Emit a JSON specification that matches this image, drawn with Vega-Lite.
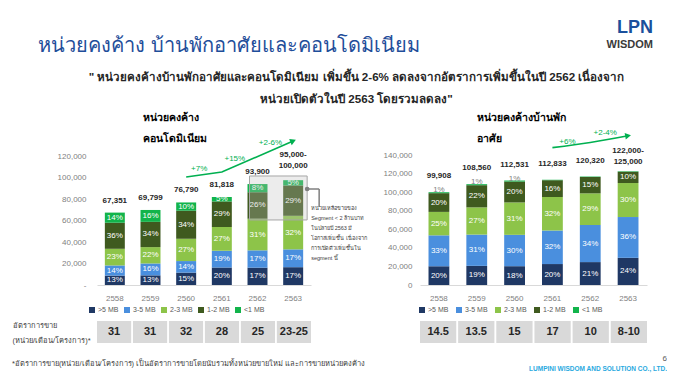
{
  "$schema": "https://vega.github.io/schema/vega-lite/v6.json",
  "background": "white",
  "padding": {"left": 12, "top": 18, "right": 0, "bottom": 0},
  "config": {
    "font": "Liberation Sans",
    "view": {"stroke": null},
    "axisX": {"labelAngle": 0, "ticks": false, "domainColor": "#D9D9D9", "labelColor": "#7F7F7F", "labelFontSize": 8, "labelPadding": 9, "title": null},
    "axisY": {"grid": false, "domain": false, "ticks": false, "labelColor": "#7F7F7F", "labelFontSize": 8, "labelOverlap": false, "title": null}
  },
  "datasets": {
    "condo": [
      {"year": "2558", "seg": ">5 MB", "k": 1, "v": 8756, "lab": "13%"},
      {"year": "2558", "seg": "3-5 MB", "k": 2, "v": 9429, "lab": "14%"},
      {"year": "2558", "seg": "2-3 MB", "k": 3, "v": 15491, "lab": "23%"},
      {"year": "2558", "seg": "1-2 MB", "k": 4, "v": 24246, "lab": "36%"},
      {"year": "2558", "seg": "<1 MB", "k": 5, "v": 9429, "lab": "14%"},
      {"year": "2559", "seg": ">5 MB", "k": 1, "v": 8984, "lab": "13%"},
      {"year": "2559", "seg": "3-5 MB", "k": 2, "v": 11057, "lab": "16%"},
      {"year": "2559", "seg": "2-3 MB", "k": 3, "v": 15204, "lab": "22%"},
      {"year": "2559", "seg": "1-2 MB", "k": 4, "v": 23497, "lab": "34%"},
      {"year": "2559", "seg": "<1 MB", "k": 5, "v": 11057, "lab": "16%"},
      {"year": "2560", "seg": ">5 MB", "k": 1, "v": 11519, "lab": "15%"},
      {"year": "2560", "seg": "3-5 MB", "k": 2, "v": 10751, "lab": "14%"},
      {"year": "2560", "seg": "2-3 MB", "k": 3, "v": 20733, "lab": "27%"},
      {"year": "2560", "seg": "1-2 MB", "k": 4, "v": 26109, "lab": "34%"},
      {"year": "2560", "seg": "<1 MB", "k": 5, "v": 7679, "lab": "10%"},
      {"year": "2561", "seg": ">5 MB", "k": 1, "v": 16364, "lab": "20%"},
      {"year": "2561", "seg": "3-5 MB", "k": 2, "v": 15545, "lab": "19%"},
      {"year": "2561", "seg": "2-3 MB", "k": 3, "v": 22091, "lab": "27%"},
      {"year": "2561", "seg": "1-2 MB", "k": 4, "v": 23727, "lab": "29%"},
      {"year": "2561", "seg": "<1 MB", "k": 5, "v": 4091, "lab": "5%"},
      {"year": "2562", "seg": ">5 MB", "k": 1, "v": 16124, "lab": "17%"},
      {"year": "2562", "seg": "3-5 MB", "k": 2, "v": 16124, "lab": "17%"},
      {"year": "2562", "seg": "2-3 MB", "k": 3, "v": 29403, "lab": "31%"},
      {"year": "2562", "seg": "1-2 MB", "k": 4, "v": 24661, "lab": "26%"},
      {"year": "2562", "seg": "<1 MB", "k": 5, "v": 7588, "lab": "8%"},
      {"year": "2563", "seg": ">5 MB", "k": 1, "v": 16575, "lab": "17%"},
      {"year": "2563", "seg": "3-5 MB", "k": 2, "v": 16575, "lab": "17%"},
      {"year": "2563", "seg": "2-3 MB", "k": 3, "v": 31200, "lab": "32%"},
      {"year": "2563", "seg": "1-2 MB", "k": 4, "v": 28275, "lab": "29%"},
      {"year": "2563", "seg": "<1 MB", "k": 5, "v": 4875, "lab": "5%"}
    ],
    "house": [
      {"year": "2558", "seg": ">5 MB", "k": 1, "v": 20183, "lab": "20%"},
      {"year": "2558", "seg": "3-5 MB", "k": 2, "v": 33302, "lab": "33%"},
      {"year": "2558", "seg": "2-3 MB", "k": 3, "v": 25229, "lab": "25%"},
      {"year": "2558", "seg": "1-2 MB", "k": 4, "v": 20183, "lab": "20%"},
      {"year": "2558", "seg": "<1 MB", "k": 5, "v": 1009, "lab": ""},
      {"year": "2559", "seg": ">5 MB", "k": 1, "v": 20626, "lab": "19%"},
      {"year": "2559", "seg": "3-5 MB", "k": 2, "v": 33654, "lab": "31%"},
      {"year": "2559", "seg": "2-3 MB", "k": 3, "v": 29311, "lab": "27%"},
      {"year": "2559", "seg": "1-2 MB", "k": 4, "v": 23883, "lab": "22%"},
      {"year": "2559", "seg": "<1 MB", "k": 5, "v": 1086, "lab": ""},
      {"year": "2560", "seg": ">5 MB", "k": 1, "v": 20256, "lab": "18%"},
      {"year": "2560", "seg": "3-5 MB", "k": 2, "v": 33759, "lab": "30%"},
      {"year": "2560", "seg": "2-3 MB", "k": 3, "v": 34885, "lab": "31%"},
      {"year": "2560", "seg": "1-2 MB", "k": 4, "v": 22506, "lab": "20%"},
      {"year": "2560", "seg": "<1 MB", "k": 5, "v": 1125, "lab": ""},
      {"year": "2561", "seg": ">5 MB", "k": 1, "v": 22567, "lab": "20%"},
      {"year": "2561", "seg": "3-5 MB", "k": 2, "v": 36107, "lab": "32%"},
      {"year": "2561", "seg": "2-3 MB", "k": 3, "v": 36107, "lab": "32%"},
      {"year": "2561", "seg": "1-2 MB", "k": 4, "v": 18053, "lab": "16%"},
      {"year": "2561", "seg": "<1 MB", "k": 5, "v": 500, "lab": ""},
      {"year": "2562", "seg": ">5 MB", "k": 1, "v": 24670, "lab": "21%"},
      {"year": "2562", "seg": "3-5 MB", "k": 2, "v": 39941, "lab": "34%"},
      {"year": "2562", "seg": "2-3 MB", "k": 3, "v": 34068, "lab": "29%"},
      {"year": "2562", "seg": "1-2 MB", "k": 4, "v": 17621, "lab": "15%"},
      {"year": "2562", "seg": "<1 MB", "k": 5, "v": 500, "lab": ""},
      {"year": "2563", "seg": ">5 MB", "k": 1, "v": 29280, "lab": "24%"},
      {"year": "2563", "seg": "3-5 MB", "k": 2, "v": 43920, "lab": "36%"},
      {"year": "2563", "seg": "2-3 MB", "k": 3, "v": 36600, "lab": "30%"},
      {"year": "2563", "seg": "1-2 MB", "k": 4, "v": 12200, "lab": "10%"},
      {"year": "2563", "seg": "<1 MB", "k": 5, "v": 500, "lab": ""}
    ],
    "condoTot": [
      {"year": "2558", "v": 67351, "lab": "67,351"},
      {"year": "2559", "v": 69799, "lab": "69,799"},
      {"year": "2560", "v": 76790, "lab": "76,790"},
      {"year": "2561", "v": 81818, "lab": "81,818"},
      {"year": "2562", "v": 93900, "lab": "93,900"}
    ],
    "condoRange": [
      {"year": "2563", "v": 97500, "lab": "95,000-\n100,000"}
    ],
    "houseTot": [
      {"year": "2558", "v": 99906, "lab": "99,908"},
      {"year": "2559", "v": 108560, "lab": "108,560"},
      {"year": "2560", "v": 112531, "lab": "112,531"},
      {"year": "2561", "v": 113334, "lab": "112,833"},
      {"year": "2562", "v": 116800, "lab": "120,320"}
    ],
    "houseRange": [
      {"year": "2563", "v": 122500, "lab": "122,000-\n125,000"}
    ],
    "houseSmall": [
      {"year": "2558", "v": 99906, "lab": "1%"},
      {"year": "2559", "v": 108560, "lab": "1%"},
      {"year": "2560", "v": 112531, "lab": "1%"}
    ],
    "condoArrow": [
      {"year": "2560", "v": 100500},
      {"year": "2561", "v": 105100},
      {"year": "2563", "v": 134000}
    ],
    "condoGrowth": [
      {"year": "2560", "v": 107900, "lab": "+7%"},
      {"year": "2561", "v": 117200, "lab": "+15%"},
      {"year": "2562", "v": 132100, "lab": "+2-6%"}
    ],
    "houseArrow": [
      {"year": "2561", "v": 147900},
      {"year": "2562", "v": 153500},
      {"year": "2563", "v": 160800}
    ],
    "houseGrowth": [
      {"year": "2561", "v": 154300, "lab": "+6%"},
      {"year": "2562", "v": 164000, "lab": "+2-4%"}
    ],
    "box": [{"a": "2562", "b": "2563", "lo": 60500, "hi": 101400}],
    "connector": [{"a": "2563", "y1": 89300, "y2": 72500}],
    "note": [{"a": "2563", "v": 73500, "lab": "หน่วยเหลือขายของ\nSegment < 2 ล้านบาท\nในปลายปี 2563 มี\nโอกาสเพิ่มขึ้น เนื่องจาก\nการเปิดตัวเพิ่มขึ้นใน\nsegment นี้"}],
    "rateCondo": [
      {"year": "2558", "row": "r", "r": "31"},
      {"year": "2559", "row": "r", "r": "31"},
      {"year": "2560", "row": "r", "r": "32"},
      {"year": "2561", "row": "r", "r": "28"},
      {"year": "2562", "row": "r", "r": "25"},
      {"year": "2563", "row": "r", "r": "23-25"}
    ],
    "rateHouse": [
      {"year": "2558", "row": "r", "r": "14.5"},
      {"year": "2559", "row": "r", "r": "13.5"},
      {"year": "2560", "row": "r", "r": "15"},
      {"year": "2561", "row": "r", "r": "17"},
      {"year": "2562", "row": "r", "r": "10"},
      {"year": "2563", "row": "r", "r": "8-10"}
    ]
  },
  "title": {"text": "หน่วยคงค้าง บ้านพักอาศัยและคอนโดมิเนียม", "anchor": "start", "dx": 26, "offset": -37, "fontSize": 20, "fontWeight": "normal", "color": "#1F4E9A"},
  "vconcat": [
    {
      "title": {"text": "LPN", "subtitle": "WISDOM", "anchor": "end", "dx": -14, "offset": 22, "fontSize": 18, "fontWeight": "bold", "color": "#1B4F9C", "subtitleFontSize": 11, "subtitleFontWeight": "bold", "subtitleColor": "#3A3A3A", "subtitlePadding": 2},
      "vconcat": [
        {
          "title": {"text": ["\" หน่วยคงค้างบ้านพักอาศัยและคอนโดมิเนียม เพิ่มขึ้น 2-6% ลดลงจากอัตราการเพิ่มขึ้นในปี 2562 เนื่องจาก", "หน่วยเปิดตัวในปี 2563 โดยรวมลดลง\""], "anchor": "middle", "dx": 17, "offset": 7, "fontSize": 11.6, "fontWeight": "bold", "color": "#262626", "lineHeight": 22},
          "columns": 2,
          "bounds": "flush",
          "spacing": {"column": 109, "row": 36},
          "resolve": {"scale": {"color": "independent", "x": "independent", "y": "independent"}, "legend": {"color": "independent"}},
          "concat": [
            {
              "width": 214,
              "height": 158,
              "title": {"text": ["หน่วยคงค้าง", "คอนโดมิเนียม"], "anchor": "start", "frame": "group", "align": "left", "dx": 46, "offset": -17, "fontSize": 10.5, "fontWeight": "bold", "color": "#000000", "lineHeight": 21},
              "layer": [
                {
                  "data": {"name": "condo"},
                  "mark": {"type": "bar"},
                  "encoding": {
                    "x": {"field": "year", "type": "nominal", "title": null, "scale": {"paddingInner": 0.44, "paddingOuter": 0.22}},
                    "y": {"field": "v", "type": "quantitative", "title": null, "stack": "zero", "scale": {"domain": [0, 146977], "nice": false}, "axis": {"values": [0, 20000, 40000, 60000, 80000, 100000, 120000], "labelExpr": "datum.value == 0 ? '-' : format(datum.value, ',d')", "labelPadding": 11}},
                    "color": {"field": "seg", "type": "nominal", "scale": {"domain": [">5 MB", "3-5 MB", "2-3 MB", "1-2 MB", "<1 MB"], "range": ["#1F3864", "#4A8FDE", "#8DC449", "#3F5A1F", "#12B44B"]}, "legend": {"title": null, "orient": "none", "legendX": -9, "legendY": 179, "direction": "horizontal", "columns": 5, "symbolType": "square", "symbolSize": 36, "labelFontSize": 7, "labelColor": "#595959", "columnPadding": 4, "labelOffset": 2}},
                    "order": {"field": "k"}
                  }
                },
                {
                  "data": {"name": "condo"},
                  "mark": {"type": "text", "color": "white", "fontSize": 8},
                  "encoding": {
                    "x": {"field": "year", "type": "nominal", "title": null},
                    "y": {"field": "v", "type": "quantitative", "title": null, "stack": "zero", "bandPosition": 0.5, "scale": {"domain": [0, 146977], "nice": false}, "axis": {"values": [0, 20000, 40000, 60000, 80000, 100000, 120000], "labelExpr": "datum.value == 0 ? '-' : format(datum.value, ',d')", "labelPadding": 11}},
                    "detail": {"field": "seg"},
                    "order": {"field": "k"},
                    "text": {"field": "lab"}
                  }
                },
                {
                  "data": {"name": "box"},
                  "mark": {"type": "rect", "fill": "#BFBFBF", "fillOpacity": 0.3, "stroke": "#A6A6A6", "strokeWidth": 1, "xOffset": 2, "x2Offset": 4},
                  "encoding": {
                    "x": {"field": "a", "type": "nominal", "title": null, "bandPosition": 0},
                    "x2": {"field": "b", "bandPosition": 1},
                    "y": {"field": "lo", "type": "quantitative", "title": null, "scale": {"domain": [0, 146977], "nice": false}, "axis": {"values": [0, 20000, 40000, 60000, 80000, 100000, 120000], "labelExpr": "datum.value == 0 ? '-' : format(datum.value, ',d')", "labelPadding": 11}},
                    "y2": {"field": "hi"}
                  }
                },
                {
                  "data": {"name": "connector"},
                  "mark": {"type": "rule", "color": "#7F7F7F", "strokeWidth": 1.5, "xOffset": 4, "x2Offset": 16},
                  "encoding": {
                    "x": {"field": "a", "type": "nominal", "title": null, "bandPosition": 1},
                    "x2": {"field": "a", "bandPosition": 1},
                    "y": {"field": "y1", "type": "quantitative", "title": null, "scale": {"domain": [0, 146977], "nice": false}, "axis": {"values": [0, 20000, 40000, 60000, 80000, 100000, 120000], "labelExpr": "datum.value == 0 ? '-' : format(datum.value, ',d')", "labelPadding": 11}}
                  }
                },
                {
                  "data": {"name": "connector"},
                  "mark": {"type": "rule", "color": "#7F7F7F", "strokeWidth": 1.5, "xOffset": 16},
                  "encoding": {
                    "x": {"field": "a", "type": "nominal", "title": null, "bandPosition": 1},
                    "y": {"field": "y1", "type": "quantitative", "title": null, "scale": {"domain": [0, 146977], "nice": false}, "axis": {"values": [0, 20000, 40000, 60000, 80000, 100000, 120000], "labelExpr": "datum.value == 0 ? '-' : format(datum.value, ',d')", "labelPadding": 11}},
                    "y2": {"field": "y2"}
                  }
                },
                {
                  "data": {"name": "connector"},
                  "mark": {"type": "point", "shape": "circle", "filled": true, "size": 22, "color": "#7F7F7F", "opacity": 1, "xOffset": 4},
                  "encoding": {
                    "x": {"field": "a", "type": "nominal", "title": null, "bandPosition": 1},
                    "y": {"field": "y1", "type": "quantitative", "title": null, "scale": {"domain": [0, 146977], "nice": false}, "axis": {"values": [0, 20000, 40000, 60000, 80000, 100000, 120000], "labelExpr": "datum.value == 0 ? '-' : format(datum.value, ',d')", "labelPadding": 11}}
                  }
                },
                {
                  "data": {"name": "note"},
                  "mark": {"type": "text", "align": "left", "baseline": "top", "dx": 8, "fontSize": 5.5, "lineHeight": 10, "lineBreak": "\n", "color": "#404040"},
                  "encoding": {
                    "x": {"field": "a", "type": "nominal", "title": null, "bandPosition": 1},
                    "y": {"field": "v", "type": "quantitative", "title": null, "scale": {"domain": [0, 146977], "nice": false}, "axis": {"values": [0, 20000, 40000, 60000, 80000, 100000, 120000], "labelExpr": "datum.value == 0 ? '-' : format(datum.value, ',d')", "labelPadding": 11}},
                    "text": {"field": "lab"}
                  }
                },
                {
                  "data": {"name": "condoTot"},
                  "mark": {"type": "text", "baseline": "bottom", "dy": -8, "fontSize": 8, "fontWeight": "bold", "color": "#262626"},
                  "encoding": {
                    "x": {"field": "year", "type": "nominal", "title": null},
                    "y": {"field": "v", "type": "quantitative", "title": null, "scale": {"domain": [0, 146977], "nice": false}, "axis": {"values": [0, 20000, 40000, 60000, 80000, 100000, 120000], "labelExpr": "datum.value == 0 ? '-' : format(datum.value, ',d')", "labelPadding": 11}},
                    "text": {"field": "lab"}
                  }
                },
                {
                  "data": {"name": "condoRange"},
                  "mark": {"type": "text", "baseline": "bottom", "dy": -21, "fontSize": 8, "fontWeight": "bold", "color": "#262626", "lineBreak": "\n", "lineHeight": 11},
                  "encoding": {
                    "x": {"field": "year", "type": "nominal", "title": null},
                    "y": {"field": "v", "type": "quantitative", "title": null, "scale": {"domain": [0, 146977], "nice": false}, "axis": {"values": [0, 20000, 40000, 60000, 80000, 100000, 120000], "labelExpr": "datum.value == 0 ? '-' : format(datum.value, ',d')", "labelPadding": 11}},
                    "text": {"field": "lab"}
                  }
                },
                {
                  "data": {"name": "condoArrow"},
                  "mark": {"type": "line", "color": "#00B050", "strokeWidth": 1.6},
                  "encoding": {
                    "x": {"field": "year", "type": "nominal", "title": null},
                    "y": {"field": "v", "type": "quantitative", "title": null, "scale": {"domain": [0, 146977], "nice": false}, "axis": {"values": [0, 20000, 40000, 60000, 80000, 100000, 120000], "labelExpr": "datum.value == 0 ? '-' : format(datum.value, ',d')", "labelPadding": 11}}
                  }
                },
                {
                  "data": {"name": "condoArrow"},
                  "transform": [{"filter": "datum.year == '2563'"}],
                  "mark": {"type": "point", "shape": "triangle-right", "filled": true, "size": 45, "angle": -22, "color": "#00B050", "opacity": 1},
                  "encoding": {
                    "x": {"field": "year", "type": "nominal", "title": null},
                    "y": {"field": "v", "type": "quantitative", "title": null, "scale": {"domain": [0, 146977], "nice": false}, "axis": {"values": [0, 20000, 40000, 60000, 80000, 100000, 120000], "labelExpr": "datum.value == 0 ? '-' : format(datum.value, ',d')", "labelPadding": 11}}
                  }
                },
                {
                  "data": {"name": "condoGrowth"},
                  "mark": {"type": "text", "dx": 13, "fontSize": 8, "color": "#00B050"},
                  "encoding": {
                    "x": {"field": "year", "type": "nominal", "title": null},
                    "y": {"field": "v", "type": "quantitative", "title": null, "scale": {"domain": [0, 146977], "nice": false}, "axis": {"values": [0, 20000, 40000, 60000, 80000, 100000, 120000], "labelExpr": "datum.value == 0 ? '-' : format(datum.value, ',d')", "labelPadding": 11}},
                    "text": {"field": "lab"}
                  }
                }
              ]
            },
            {
              "width": 227,
              "height": 158,
              "title": {"text": ["หน่วยคงค้างบ้านพัก", "อาศัย"], "anchor": "start", "frame": "group", "align": "left", "dx": 57, "offset": -17, "fontSize": 10.5, "fontWeight": "bold", "color": "#000000", "lineHeight": 21},
              "layer": [
                {
                  "data": {"name": "house"},
                  "mark": {"type": "bar"},
                  "encoding": {
                    "x": {"field": "year", "type": "nominal", "title": null, "scale": {"paddingInner": 0.45, "paddingOuter": 0.225}},
                    "y": {"field": "v", "type": "quantitative", "title": null, "stack": "zero", "scale": {"domain": [0, 170154], "nice": false}, "axis": {"values": [0, 20000, 40000, 60000, 80000, 100000, 120000, 140000], "format": ",d", "labelPadding": 8}},
                    "color": {"field": "seg", "type": "nominal", "scale": {"domain": [">5 MB", "3-5 MB", "2-3 MB", "1-2 MB", "<1 MB"], "range": ["#1F3864", "#4A8FDE", "#8DC449", "#3F5A1F", "#12B44B"]}, "legend": {"title": null, "orient": "none", "legendX": -2, "legendY": 179, "direction": "horizontal", "columns": 5, "symbolType": "square", "symbolSize": 36, "labelFontSize": 7, "labelColor": "#595959", "columnPadding": 6, "labelOffset": 2}},
                    "order": {"field": "k"}
                  }
                },
                {
                  "data": {"name": "house"},
                  "mark": {"type": "text", "color": "white", "fontSize": 8},
                  "encoding": {
                    "x": {"field": "year", "type": "nominal", "title": null},
                    "y": {"field": "v", "type": "quantitative", "title": null, "stack": "zero", "bandPosition": 0.5, "scale": {"domain": [0, 170154], "nice": false}, "axis": {"values": [0, 20000, 40000, 60000, 80000, 100000, 120000, 140000], "format": ",d", "labelPadding": 8}},
                    "detail": {"field": "seg"},
                    "order": {"field": "k"},
                    "text": {"field": "lab"}
                  }
                },
                {
                  "data": {"name": "houseSmall"},
                  "mark": {"type": "text", "baseline": "bottom", "dy": 2, "fontSize": 8, "color": "#7F7F7F"},
                  "encoding": {
                    "x": {"field": "year", "type": "nominal", "title": null},
                    "y": {"field": "v", "type": "quantitative", "title": null, "scale": {"domain": [0, 170154], "nice": false}, "axis": {"values": [0, 20000, 40000, 60000, 80000, 100000, 120000, 140000], "format": ",d", "labelPadding": 8}},
                    "text": {"field": "lab"}
                  }
                },
                {
                  "data": {"name": "houseTot"},
                  "mark": {"type": "text", "baseline": "bottom", "dy": -12, "fontSize": 8, "fontWeight": "bold", "color": "#262626"},
                  "encoding": {
                    "x": {"field": "year", "type": "nominal", "title": null},
                    "y": {"field": "v", "type": "quantitative", "title": null, "scale": {"domain": [0, 170154], "nice": false}, "axis": {"values": [0, 20000, 40000, 60000, 80000, 100000, 120000, 140000], "format": ",d", "labelPadding": 8}},
                    "text": {"field": "lab"}
                  }
                },
                {
                  "data": {"name": "houseRange"},
                  "mark": {"type": "text", "baseline": "bottom", "dy": -16, "fontSize": 8, "fontWeight": "bold", "color": "#262626", "lineBreak": "\n", "lineHeight": 11},
                  "encoding": {
                    "x": {"field": "year", "type": "nominal", "title": null},
                    "y": {"field": "v", "type": "quantitative", "title": null, "scale": {"domain": [0, 170154], "nice": false}, "axis": {"values": [0, 20000, 40000, 60000, 80000, 100000, 120000, 140000], "format": ",d", "labelPadding": 8}},
                    "text": {"field": "lab"}
                  }
                },
                {
                  "data": {"name": "houseArrow"},
                  "mark": {"type": "line", "color": "#00B050", "strokeWidth": 1.6, "interpolate": "monotone"},
                  "encoding": {
                    "x": {"field": "year", "type": "nominal", "title": null},
                    "y": {"field": "v", "type": "quantitative", "title": null, "scale": {"domain": [0, 170154], "nice": false}, "axis": {"values": [0, 20000, 40000, 60000, 80000, 100000, 120000, 140000], "format": ",d", "labelPadding": 8}}
                  }
                },
                {
                  "data": {"name": "houseArrow"},
                  "transform": [{"filter": "datum.year == '2563'"}],
                  "mark": {"type": "point", "shape": "triangle-right", "filled": true, "size": 45, "angle": -10, "color": "#00B050", "opacity": 1},
                  "encoding": {
                    "x": {"field": "year", "type": "nominal", "title": null},
                    "y": {"field": "v", "type": "quantitative", "title": null, "scale": {"domain": [0, 170154], "nice": false}, "axis": {"values": [0, 20000, 40000, 60000, 80000, 100000, 120000, 140000], "format": ",d", "labelPadding": 8}}
                  }
                },
                {
                  "data": {"name": "houseGrowth"},
                  "mark": {"type": "text", "dx": 15, "fontSize": 8, "color": "#00B050"},
                  "encoding": {
                    "x": {"field": "year", "type": "nominal", "title": null},
                    "y": {"field": "v", "type": "quantitative", "title": null, "scale": {"domain": [0, 170154], "nice": false}, "axis": {"values": [0, 20000, 40000, 60000, 80000, 100000, 120000, 140000], "format": ",d", "labelPadding": 8}},
                    "text": {"field": "lab"}
                  }
                }
              ]
            },
            {
              "width": 214,
              "height": 22,
              "data": {"name": "rateCondo"},
              "title": {"text": "*อัตราการขาย(หน่วย/เดือน/โครงการ) เป็นอัตราการขายโดยนับรวมทั้งหน่วยขายใหม่ และการขายหน่วยคงค้าง", "orient": "bottom", "anchor": "start", "align": "left", "dx": 0, "offset": 16, "fontSize": 7.5, "fontWeight": "normal", "color": "#404040"},
              "encoding": {
                "x": {"field": "year", "type": "nominal", "scale": {"paddingInner": 0.05, "paddingOuter": 0}, "axis": null},
                "y": {"field": "row", "type": "nominal", "scale": {"paddingInner": 0, "paddingOuter": 0}, "axis": {"labels": false, "ticks": false, "domain": false, "title": ["อัตราการขาย", "(หน่วย/เดือน/โครงการ)*"], "titleAngle": 0, "titleAlign": "left", "titleBaseline": "middle", "titleX": -85, "titleY": 4, "titleFontSize": 7.5, "titleFontWeight": "normal", "titleColor": "#404040", "titleLineHeight": 15}}
              },
              "layer": [
                {"mark": {"type": "rect", "color": "#D9D9D9"}},
                {"mark": {"type": "text", "fontSize": 11, "fontWeight": "bold", "color": "#262626"}, "encoding": {"text": {"field": "r"}}}
              ]
            },
            {
              "width": 227,
              "height": 22,
              "data": {"name": "rateHouse"},
              "title": {"text": "6", "subtitle": "LUMPINI WISDOM AND SOLUTION CO., LTD.", "orient": "bottom", "anchor": "end", "align": "right", "dx": 20, "offset": 12, "fontSize": 8, "fontWeight": "normal", "color": "#595959", "subtitleFontSize": 6.5, "subtitleFontWeight": "bold", "subtitleColor": "#29A9E0", "subtitlePadding": 3},
              "encoding": {
                "x": {"field": "year", "type": "nominal", "scale": {"paddingInner": 0.05, "paddingOuter": 0}, "axis": null},
                "y": {"field": "row", "type": "nominal", "scale": {"paddingInner": 0, "paddingOuter": 0}, "axis": null}
              },
              "layer": [
                {"mark": {"type": "rect", "color": "#D9D9D9"}},
                {"mark": {"type": "text", "fontSize": 11, "fontWeight": "bold", "color": "#262626"}, "encoding": {"text": {"field": "r"}}}
              ]
            }
          ]
        }
      ]
    }
  ]
}
